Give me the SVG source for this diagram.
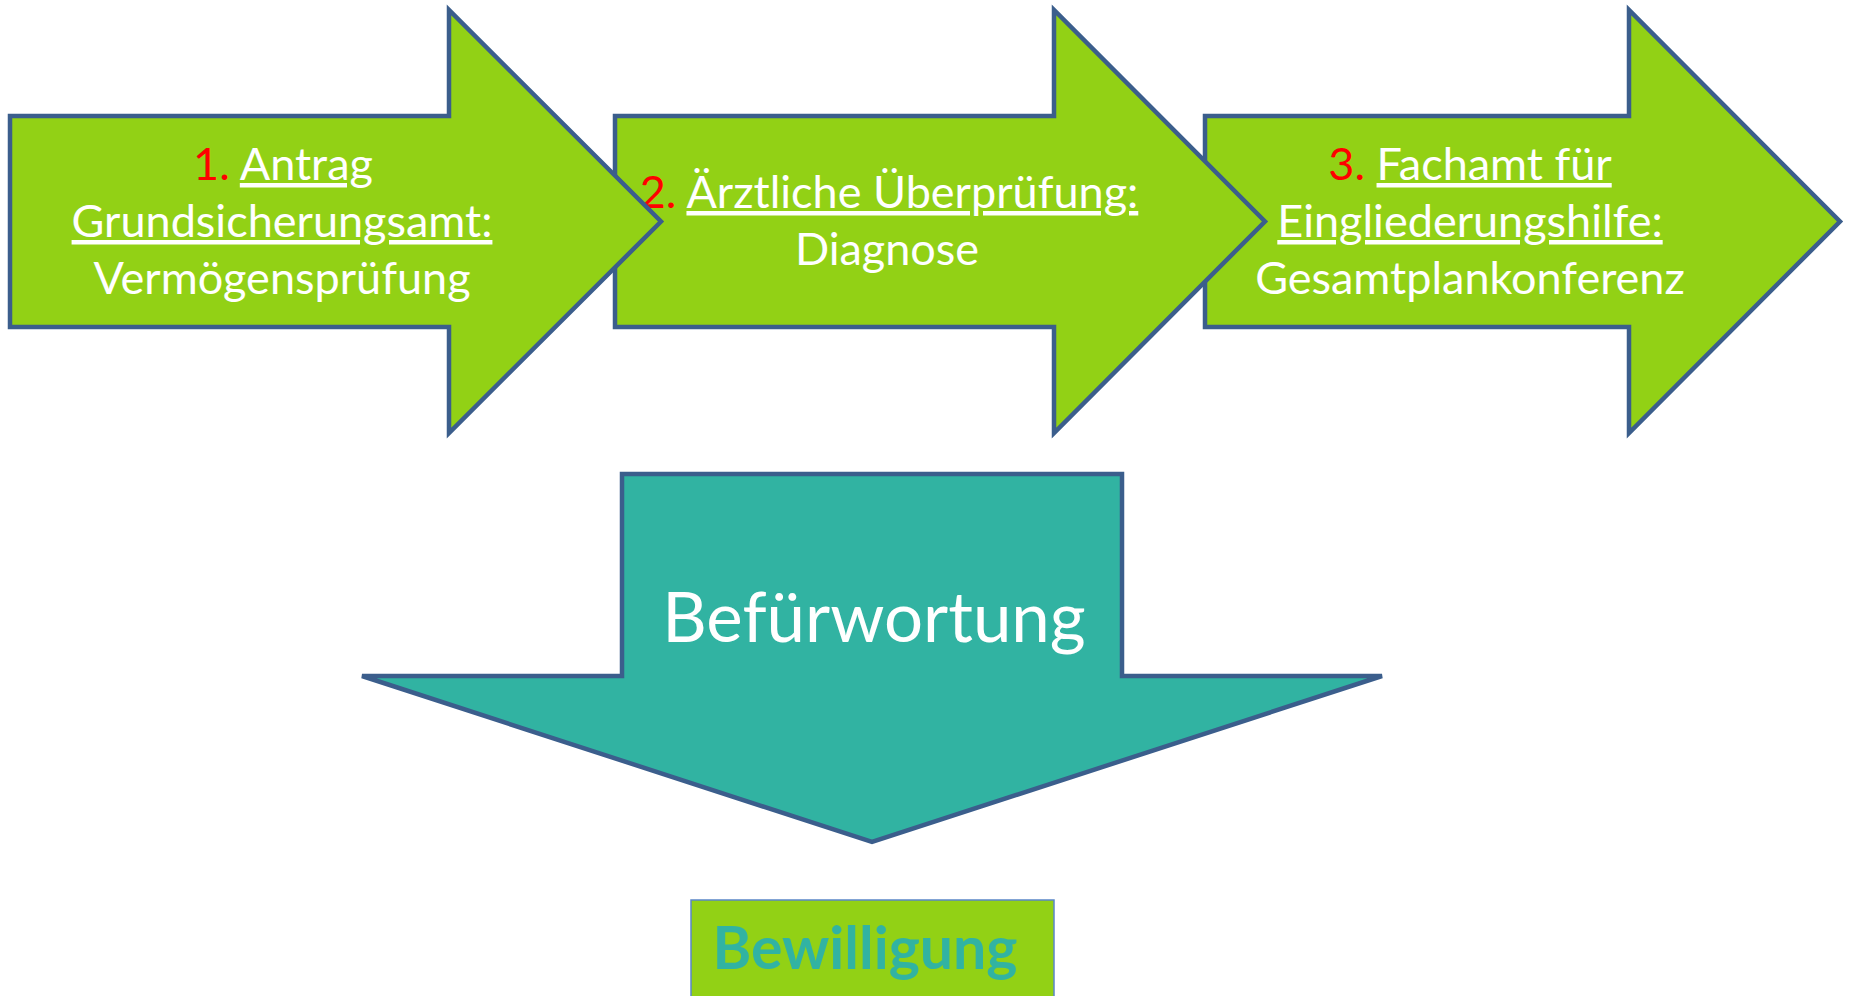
<svg xmlns="http://www.w3.org/2000/svg" width="1849" height="996" viewBox="0 0 1849 996">
<style>
.arr{fill:#92D115;stroke:#3B5E8C;stroke-width:4.5;stroke-linejoin:miter;stroke-miterlimit:10}
.down{fill:#31B3A2;stroke:#3B5E8C;stroke-width:4.5;stroke-linejoin:miter;stroke-miterlimit:3}
.t{font-family:Lato,"Open Sans","Liberation Sans",sans-serif;font-size:45px;fill:#FFFFFF;text-anchor:middle}
.n{fill:#FF0000}
.u{text-decoration:underline}
.big{font-family:Lato,"Open Sans","Liberation Sans",sans-serif;font-size:69px;fill:#FFFFFF;text-anchor:middle}
.bw{font-family:Lato,"Open Sans","Liberation Sans",sans-serif;font-size:59px;font-weight:bold;fill:#31B3A2;text-anchor:middle}
</style>
<rect width="1849" height="996" fill="#FFFFFF"/>
<g id="connectors"></g>
<g id="step3">
<polygon class="arr" points="1205,116 1629,116 1629,10 1840,221.5 1629,433 1629,327 1205,327"/>
<text class="t" x="1470" y="180"><tspan class="n">3. </tspan><tspan class="u">Fachamt für</tspan></text>
<text class="t" x="1470" y="237"><tspan class="u">Eingliederungshilfe:</tspan></text>
<text class="t" x="1470" y="294">Gesamtplankonferenz</text>
</g>
<g id="step2">
<polygon class="arr" points="615,116 1054,116 1054,10 1265,221.5 1054,433 1054,327 615,327"/>
<text class="t" x="889" y="208"><tspan class="n">2. </tspan><tspan class="u">Ärztliche Überprüfung:</tspan></text>
<text class="t" x="887" y="265">Diagnose</text>
</g>
<g id="step1">
<polygon class="arr" points="10,116 449,116 449,10 661,221.5 449,433 449,327 10,327"/>
<text class="t" x="283" y="180"><tspan class="n">1. </tspan><tspan class="u">Antrag</tspan></text>
<text class="t" x="282" y="237"><tspan class="u">Grundsicherungsamt:</tspan></text>
<text class="t" x="282" y="294">Vermögensprüfung</text>
</g>
<g id="befuerwortung">
<polygon class="down" points="622,474 1122,474 1122,676 1382,676 872,842 362,676 622,676"/>
<text class="big" x="874" y="642">Befürwortung</text>
</g>
<g id="bewilligung">
<rect x="691" y="900" width="363" height="110" fill="#92D115" stroke="#5B87C8" stroke-width="1.5"/>
<text class="bw" x="865" y="969">Bewilligung</text>
</g>
</svg>
